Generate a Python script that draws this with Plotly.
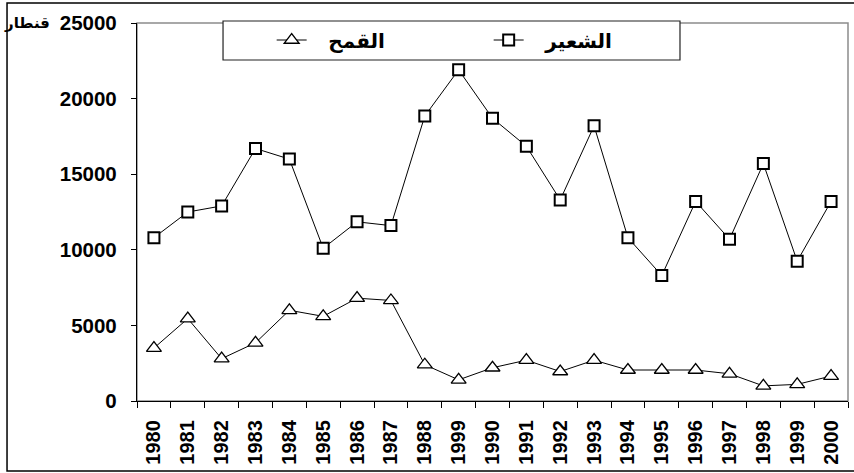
import plotly.graph_objects as go

# Year labels as printed on the axis (the 1989 slot is labelled "1999" in the source table)
years = ["1980", "1981", "1982", "1983", "1984", "1985", "1986", "1987", "1988", "1999",
         "1990", "1991", "1992", "1993", "1994", "1995", "1996", "1997", "1998", "1999", "2000"]

# Production in quintals
wheat = [3500, 5450, 2800, 3850, 6000, 5600, 6800, 6650, 2400, 1400,
         2200, 2700, 1950, 2700, 2050, 2050, 2050, 1800, 1000, 1100, 1650]
barley = [10800, 12500, 12900, 16700, 16000, 10100, 11850, 11600, 18850, 21900,
          18700, 16850, 13300, 18200, 10800, 8300, 13200, 10700, 15700, 9250, 13200]

y_ticks = [0, 5000, 10000, 15000, 20000, 25000]

wheat_name = "القمح"
barley_name = "الشعير"
unit_label = "قنطار"

FONT = "Arial, Liberation Sans, DejaVu Sans, sans-serif"
# left-to-right mark keeps the padding spaces on the symbol side of the label
PAD = "\u200e\u00a0\u00a0\u00a0"

pos = list(range(len(years)))

fig = go.Figure()
fig.add_trace(go.Scatter(
    x=pos, y=wheat, name=PAD + wheat_name, mode="lines+markers",
    line=dict(color="black", width=1),
    marker=dict(symbol="triangle-up", size=13, color="white",
                line=dict(color="black", width=1.3)),
))
fig.add_trace(go.Scatter(
    x=pos, y=barley, name=PAD + barley_name, mode="lines+markers",
    line=dict(color="black", width=1),
    marker=dict(symbol="square", size=11, color="white",
                line=dict(color="black", width=2)),
))

fig.update_layout(
    width=854, height=473,
    margin=dict(l=137, r=6, t=23, b=72),
    paper_bgcolor="white", plot_bgcolor="white",
    font=dict(family=FONT, color="black"),
    showlegend=True,
    legend=dict(
        orientation="h", x=0.1894, y=0.955, xanchor="left", yanchor="middle",
        bgcolor="rgba(0,0,0,0)", borderwidth=0,
        font=dict(size=20, family=FONT, color="black", weight="bold"),
        entrywidth=172, itemwidth=30, traceorder="normal",
    ),
    xaxis=dict(
        range=[-0.5, len(years) - 0.5], automargin=False,
        tickmode="array", tickvals=pos, ticktext=years,
        tickangle=-90, ticks="", ticklabelstandoff=10,
        tickfont=dict(size=20, family=FONT, color="black", weight="bold"),
        showgrid=False, zeroline=False,
        showline=True, linecolor="black", linewidth=1.3,
        minor=dict(tickvals=[p - 0.5 for p in pos] + [len(years) - 0.5],
                   ticks="outside", ticklen=6, tickcolor="black", tickwidth=1, showgrid=False),
    ),
    yaxis=dict(
        range=[0, 25000], automargin=False,
        tickmode="array", tickvals=y_ticks, ticktext=[str(v) for v in y_ticks],
        ticks="outside", ticklen=5, tickcolor="black", ticklabelstandoff=10,
        tickfont=dict(size=20.5, family=FONT, color="black", weight="bold"),
        showgrid=False, zeroline=False,
        showline=True, linecolor="black", linewidth=1.3,
    ),
    shapes=[
        # plot area frame (grey, top and right visible)
        dict(type="rect", xref="paper", yref="paper", x0=0, x1=1, y0=0, y1=1,
             line=dict(color="#8c8c8c", width=1.5), layer="below"),
        # legend frame
        dict(type="rect", xref="paper", yref="paper", x0=0.121, x1=0.7637, y0=0.9021, y1=1.0053,
             line=dict(color="#222222", width=1.2), fillcolor="white", layer="above"),
        # outer chart border
        dict(type="rect", xref="paper", yref="paper", x0=-0.1828, x1=1.02, y0=-0.1852, y1=1.0529,
             line=dict(color="black", width=1.5), layer="above"),
    ],
    annotations=[
        dict(text=unit_label, xref="paper", yref="paper", x=-0.1195, y=1.0,
             xanchor="right", yanchor="middle", showarrow=False,
             font=dict(size=15, family=FONT, color="black", weight="bold")),
    ],
)

fig.write_html("out.html")
